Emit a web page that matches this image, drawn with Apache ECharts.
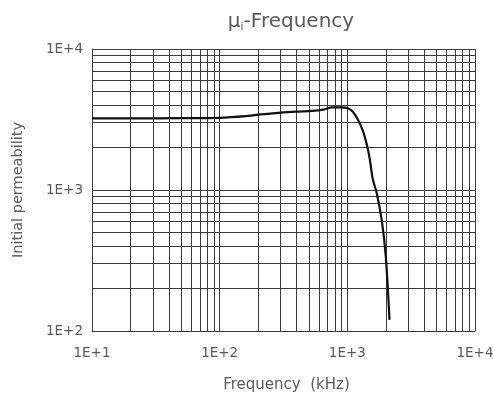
<!DOCTYPE html>
<html>
<head>
<meta charset="utf-8">
<script src="https://cdn.jsdelivr.net/npm/echarts@6/dist/echarts.min.js"></script>
<style>
  html, body { margin: 0; padding: 0; background: #fff; }
  #chart { width: 493px; height: 398px; }
</style>
</head>
<body>
<div id="chart"></div>
<script>
// frequency in kHz, initial permeability
const freq = [10, 20, 50, 100, 160, 200, 300, 400, 530, 650, 760, 900, 1000, 1100, 1200, 1320, 1420, 1500, 1580, 1700, 1860, 2000, 2140];
const mu = [3220, 3220, 3230, 3250, 3340, 3420, 3540, 3600, 3640, 3720, 3860, 3860, 3820, 3600, 3200, 2650, 2100, 1650, 1200, 950, 610, 340, 120];

const xTickLabels = ['1E+1', '1E+2', '1E+3', '1E+4'];
const yTickLabels = ['1E+2', '1E+3', '1E+4'];

// minor log grid lines (2..9 per decade)
const xMinor = [20, 30, 40, 50, 60, 70, 80, 90, 200, 300, 400, 500, 600, 700, 800, 900, 2000, 3000, 4000, 5000, 6000, 7000, 8000, 9000];
const yMinor = [200, 300, 400, 500, 600, 700, 800, 900, 2000, 3000, 4000, 5000, 6000, 7000, 8000, 9000];

const chart = echarts.init(document.getElementById('chart'));

const gridColor = '#3c3c3c';
const textColor = '#5a5a5a';
const font = 'DejaVu Sans';

const option = {
  animation: false,
  title: {
    text: '{mu|μ}{sub|i}{t|-Frequency}',
    left: 286,
    textAlign: 'center',
    top: 6,
    textStyle: {
      rich: {
        mu: { fontSize: 20, color: textColor, fontFamily: font, fontWeight: 'normal' },
        sub: { fontSize: 11, color: textColor, fontFamily: font, fontWeight: 'normal', verticalAlign: 'bottom', padding: [11, 0, 0, 0] },
        t: { fontSize: 20, color: textColor, fontFamily: font, fontWeight: 'normal' }
      }
    }
  },
  grid: { left: 92, right: 18, top: 49, bottom: 67, containLabel: false, outerBoundsMode: 'none' },
  xAxis: {
    type: 'log',
    logBase: 10,
    min: 10,
    max: 10000,
    name: 'Frequency  (kHz)',
    nameLocation: 'middle',
    nameGap: 47,
    nameTextStyle: { color: textColor, fontSize: 15, fontFamily: font, padding: [0, 0, 0, 6] },
    axisLine: { show: true, lineStyle: { color: gridColor, width: 1 } },
    axisTick: { show: false },
    axisLabel: {
      color: textColor,
      fontSize: 13.5,
      fontFamily: font,
      margin: 15,
      formatter: (v) => xTickLabels[Math.round(Math.log10(v)) - 1]
    },
    splitLine: { show: true, lineStyle: { color: gridColor, width: 1 } }
  },
  yAxis: {
    type: 'log',
    logBase: 10,
    min: 100,
    max: 10000,
    name: 'Initial permeability',
    nameLocation: 'middle',
    nameGap: 66,
    nameTextStyle: { color: textColor, fontSize: 14.5, fontFamily: font },
    axisLine: { show: true, lineStyle: { color: gridColor, width: 1 } },
    axisTick: { show: false },
    axisLabel: {
      color: textColor,
      fontSize: 13.5,
      fontFamily: font,
      margin: 9,
      formatter: (v) => yTickLabels[Math.round(Math.log10(v)) - 2]
    },
    splitLine: { show: true, lineStyle: { color: gridColor, width: 1 } }
  },
  series: [
    {
      type: 'line',
      data: freq.map((f, i) => [f, mu[i]]),
      showSymbol: false,
      smooth: 0.3,
      lineStyle: { color: '#111', width: 2.2 },
      z: 5,
      markLine: {
        silent: true,
        symbol: 'none',
        label: { show: false },
        lineStyle: { color: gridColor, width: 1, type: 'solid' },
        data: xMinor.map((v) => ({ xAxis: v })).concat(yMinor.map((v) => ({ yAxis: v })))
      }
    }
  ]
};

chart.setOption(option);
</script>
</body>
</html>
